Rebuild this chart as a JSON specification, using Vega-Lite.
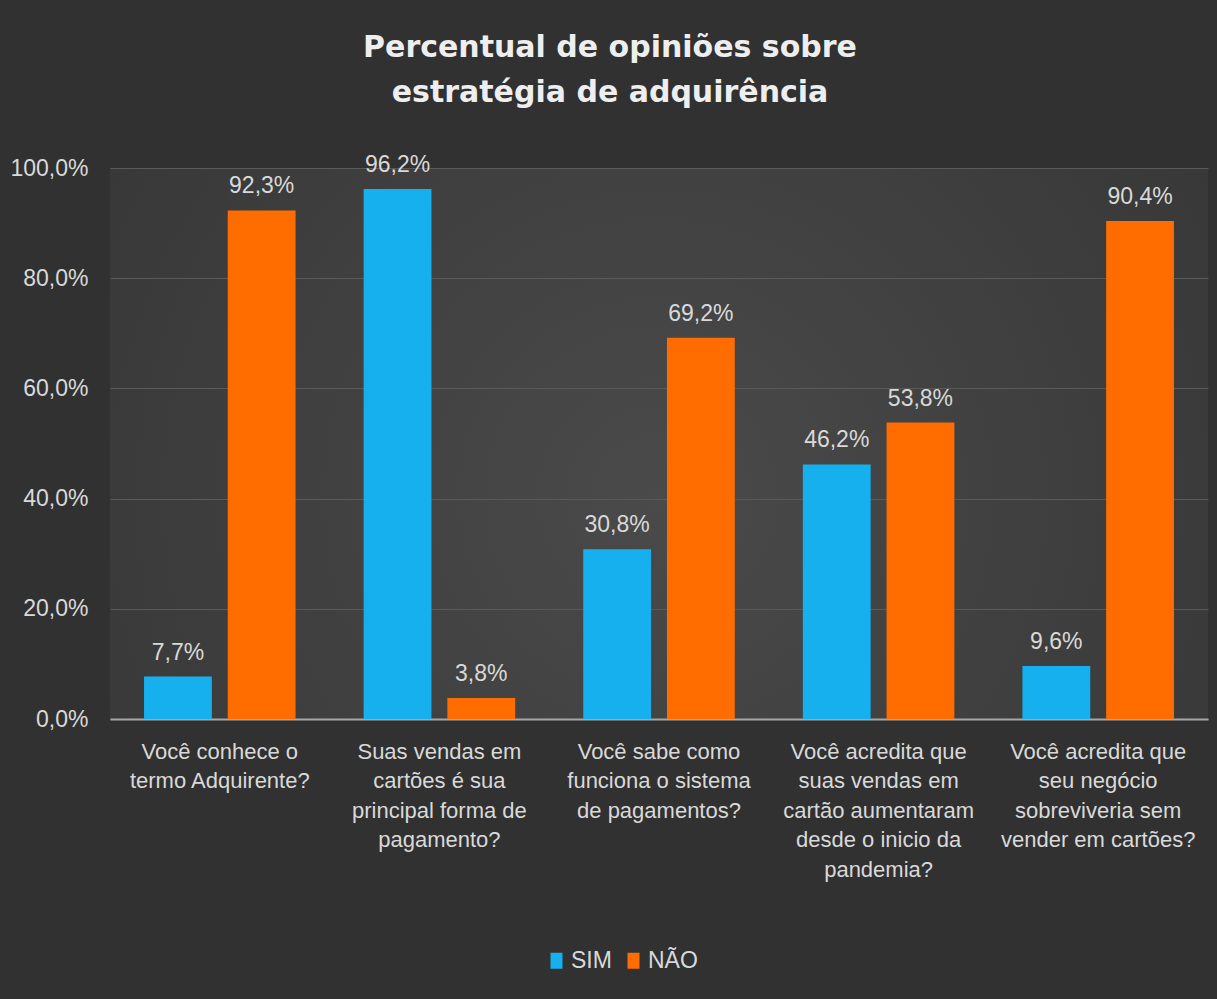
{
  "$schema": "https://vega.github.io/schema/vega-lite/v6.json",
  "autosize": {"type": "none"},
  "width": 1098,
  "height": 551,
  "padding": {"left": 110, "top": 168, "right": 9, "bottom": 280},
  "background": "#313131",
  "config": {
    "locale": {"number": {"decimal": ",", "thousands": ".", "grouping": [3], "currency": ["R$", ""]}},
    "view": {"stroke": null, "fill": {"gradient": "radial", "x1": 0.5, "y1": 0.55, "r1": 0, "x2": 0.5, "y2": 0.55, "r2": 0.75, "stops": [{"offset": 0, "color": "#4a4a4a"}, {"offset": 1, "color": "#333333"}]}},
    "font": "Liberation Sans"
  },
  "title": {
    "text": ["Percentual de opiniões sobre", "estratégia de adquirência"],
    "font": "DejaVu Sans",
    "fontSize": 30,
    "fontWeight": "bold",
    "color": "#eeeeee",
    "anchor": "middle",
    "frame": "group",
    "dx": -49,
    "offset": 46,
    "lineHeight": 45
  },
  "data": {
    "values": [
      {"pergunta": "Você conhece o|termo Adquirente?", "resposta": "SIM", "valor": 0.077},
      {"pergunta": "Você conhece o|termo Adquirente?", "resposta": "NÃO", "valor": 0.923},
      {"pergunta": "Suas vendas em|cartões é sua|principal forma de|pagamento?", "resposta": "SIM", "valor": 0.962},
      {"pergunta": "Suas vendas em|cartões é sua|principal forma de|pagamento?", "resposta": "NÃO", "valor": 0.038},
      {"pergunta": "Você sabe como|funciona o sistema|de pagamentos?", "resposta": "SIM", "valor": 0.308},
      {"pergunta": "Você sabe como|funciona o sistema|de pagamentos?", "resposta": "NÃO", "valor": 0.692},
      {"pergunta": "Você acredita que|suas vendas em|cartão aumentaram|desde o inicio da|pandemia?", "resposta": "SIM", "valor": 0.462},
      {"pergunta": "Você acredita que|suas vendas em|cartão aumentaram|desde o inicio da|pandemia?", "resposta": "NÃO", "valor": 0.538},
      {"pergunta": "Você acredita que|seu negócio|sobreviveria sem|vender em cartões?", "resposta": "SIM", "valor": 0.096},
      {"pergunta": "Você acredita que|seu negócio|sobreviveria sem|vender em cartões?", "resposta": "NÃO", "valor": 0.904}
    ]
  },
  "encoding": {
    "x": {
      "field": "pergunta", "type": "nominal", "sort": null,
      "scale": {"paddingInner": 0.31, "paddingOuter": 0.155},
      "axis": {
        "title": null, "labelAngle": 0, "ticks": false,
        "domain": true, "domainColor": "#a6a6a6", "domainWidth": 2,
        "labelExpr": "split(datum.label, '|')",
        "labelFontSize": 22, "labelColor": "#d9d9d9", "labelLineHeight": 29.5,
        "labelBaseline": "top", "labelPadding": 22, "labelLimit": 300
      }
    },
    "xOffset": {
      "field": "resposta", "type": "nominal",
      "scale": {"domain": ["SIM", "NÃO"], "paddingInner": 0.19, "paddingOuter": 0}
    },
    "y": {
      "field": "valor", "type": "quantitative",
      "scale": {"domain": [0, 1], "nice": false},
      "axis": {
        "title": null, "format": ".1%", "values": [0, 0.2, 0.4, 0.6, 0.8, 1],
        "ticks": false, "domain": false,
        "grid": true, "gridColor": "#5a5a5a", "gridWidth": 1.2,
        "labelFontSize": 23, "labelColor": "#d9d9d9", "labelPadding": 22
      }
    }
  },
  "layer": [
    {
      "mark": {"type": "bar"},
      "encoding": {
        "color": {
          "field": "resposta", "type": "nominal",
          "scale": {"domain": ["SIM", "NÃO"], "range": ["#16b0ef", "#ff6d01"]},
          "legend": {
            "title": null, "orient": "none", "direction": "horizontal",
            "legendX": 435, "legendY": 781,
            "symbolType": "M-0.75,-1H0.75V1H-0.75Z", "symbolSize": 256,
            "symbolStrokeWidth": 0, "symbolOpacity": 1,
            "labelFontSize": 23, "labelColor": "#d9d9d9", "labelOffset": 3,
            "columnPadding": 10
          }
        }
      }
    },
    {
      "mark": {"type": "text", "baseline": "alphabetic", "dy": -17, "fontSize": 23, "color": "#d9d9d9"},
      "encoding": {
        "text": {"field": "valor", "type": "quantitative", "format": ".1%"}
      }
    }
  ]
}
